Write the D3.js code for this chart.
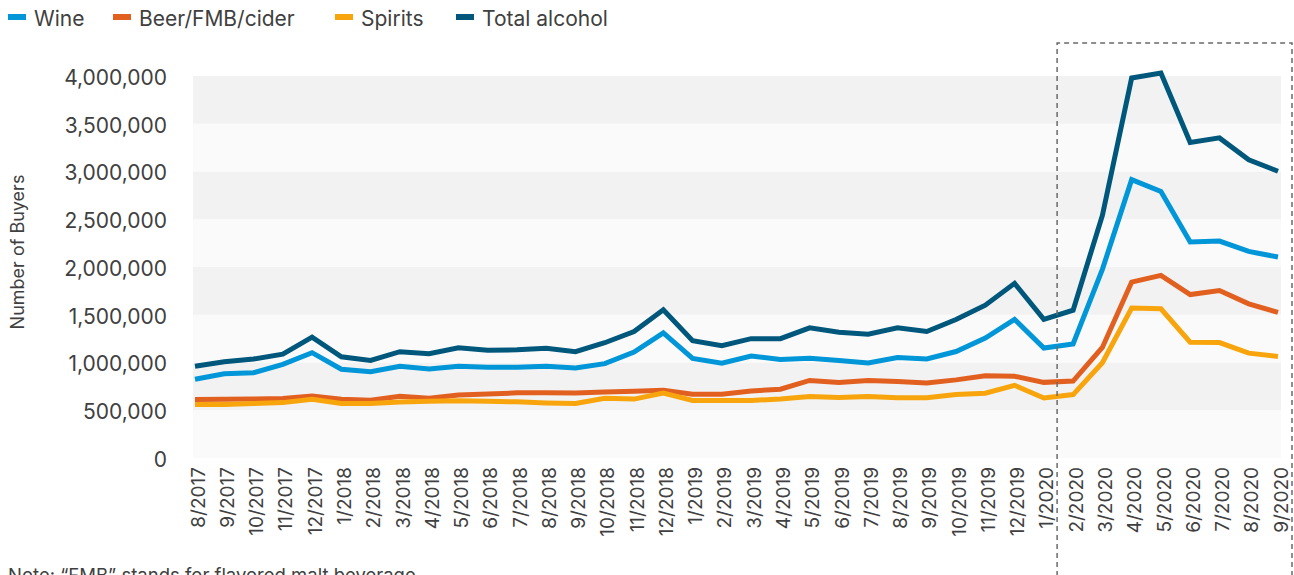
<!DOCTYPE html>
<html lang="en">
<head>
<meta charset="utf-8">
<title>Number of Buyers</title>
<script src="https://d3js.org/d3.v7.min.js"></script>
<style>
  body { margin: 0; background: #fff; font-family: Inter, "Noto Sans", sans-serif; }
  svg text { fill: #404040; }
</style>
</head>
<body>
<div id="chart"></div>
<script>
// months on the x axis
var months = ["8/2017","9/2017","10/2017","11/2017","12/2017",
  "1/2018","2/2018","3/2018","4/2018","5/2018","6/2018","7/2018","8/2018","9/2018","10/2018","11/2018","12/2018",
  "1/2019","2/2019","3/2019","4/2019","5/2019","6/2019","7/2019","8/2019","9/2019","10/2019","11/2019","12/2019",
  "1/2020","2/2020","3/2020","4/2020","5/2020","6/2020","7/2020","8/2020","9/2020"]

var wine = [825000,882000,893000,980000,1103000,930000,903000,960000,932000,960000,
  950000,950000,960000,943000,988000,1110000,1310000,1043000,993000,1068000,1032000,
  1045000,1022000,995000,1052000,1037000,1115000,1255000,1452000,1152000,1195000,
  1975000,2915000,2790000,2262000,2272000,2163000,2104000]

var beer = [612000,614000,618000,622000,650000,615000,606000,646000,626000,660000,
  670000,682000,684000,680000,692000,700000,710000,667000,667000,702000,720000,
  812000,790000,811000,800000,786000,818000,860000,856000,792000,806000,
  1157000,1842000,1912000,1711000,1753000,1614000,1525000]

var spirits = [561000,561000,570000,580000,615000,570000,570000,587000,595000,600000,
  595000,588000,577000,571000,626000,617000,681000,603000,602000,602000,619000,
  643000,634000,643000,632000,632000,664000,679000,761000,629000,664000,
  998000,1570000,1562000,1213000,1209000,1098000,1063000]

var total = [960000,1008000,1036000,1087000,1265000,1060000,1022000,1113000,1092000,1154000,
  1128000,1133000,1150000,1113000,1207000,1325000,1552000,1228000,1176000,1250000,1250000,
  1363000,1317000,1297000,1363000,1325000,1450000,1600000,1829000,1452000,1548000,
  2540000,3980000,4030000,3305000,3352000,3123000,3003000]

var yTicks = [0,500000,1000000,1500000,2000000,2500000,3000000,3500000,4000000]

var seriesNames = ["Wine","Beer/FMB/cider","Spirits","Total alcohol"]
var seriesColors = ["#0096d8","#e2601f","#f8a50d","#00577c"]
var seriesValues = [wine, beer, spirits, total]

var W = 1294, H = 575
var plotL = 193, plotR = 1281, plotT = 76, plotB = 458

var svg = d3.select("#chart").append("svg")
  .attr("width", W).attr("height", H)

var x = d3.scalePoint().domain(months).range([195, 1278])
var y = d3.scaleLinear().domain([0, 4000000]).range([plotB, plotT])

// alternating horizontal bands
svg.append("g").selectAll("rect")
  .data(yTicks.slice(0, -1))
  .enter().append("rect")
  .attr("x", plotL)
  .attr("width", plotR - plotL)
  .attr("y", function(d){ return y(d + 500000) })
  .attr("height", function(d){ return y(d) - y(d + 500000) })
  .attr("fill", function(d, i){ return i % 2 == 0 ? "#fafafa" : "#f2f2f2" })

// y axis labels
var yAxis = d3.axisLeft(y).tickValues(yTicks).tickSize(0).tickPadding(0)
  .tickFormat(d3.format(","))
var gy = svg.append("g")
  .attr("transform", "translate(167,0)")
  .call(yAxis)
gy.select(".domain").remove()
gy.selectAll("text")
  .attr("font-size", 21).attr("font-family", "Inter").attr("fill", "#404040")
  .attr("dy", "0.4em")

// x axis labels, rotated
var xAxis = d3.axisBottom(x).tickSize(0).tickPadding(0)
var gx = svg.append("g")
  .attr("transform", "translate(0," + (plotB + 9) + ")")
  .call(xAxis)
gx.select(".domain").remove()
gx.selectAll("text")
  .attr("font-size", 19).attr("font-family", "Inter").attr("fill", "#404040")
  .attr("text-anchor", "end")
  .attr("transform", "rotate(-90)")
  .attr("x", 0).attr("y", 0).attr("dy", "0.48em")

// y axis title
svg.append("text")
  .attr("transform", "translate(24,252) rotate(-90)")
  .attr("text-anchor", "middle")
  .attr("font-size", 18)
  .text("Number of Buyers")

// lines
var line = d3.line()
  .x(function(d, i){ return x(months[i]) })
  .y(function(d){ return y(d) })

svg.append("g").selectAll("path")
  .data(seriesValues)
  .enter().append("path")
  .attr("d", line)
  .attr("fill", "none")
  .attr("stroke", function(d, i){ return seriesColors[i] })
  .attr("stroke-width", 5)

// dashed highlight box (runs off the bottom)
svg.append("path")
  .attr("d", "M" + (x("2/2020") - 16) + "," + (H + 10) + "V43H1292V" + (H + 10))
  .attr("fill", "none")
  .attr("stroke", "#6a6a6a")
  .attr("stroke-width", 1.5)
  .attr("stroke-dasharray", "5,4")

// legend
var legendX = [8, 113, 335, 456]
var lg = svg.append("g").selectAll("g")
  .data(seriesNames)
  .enter().append("g")
  .attr("transform", function(d, i){ return "translate(" + legendX[i] + ",18)" })
lg.append("rect")
  .attr("x", 0).attr("y", -4).attr("width", 18).attr("height", 6)
  .attr("fill", function(d, i){ return seriesColors[i] })
lg.append("text")
  .attr("x", 26).attr("dy", "0.36em")
  .attr("font-size", 21)
  .text(function(d){ return d })

// note at the bottom (cut off by the frame)
svg.append("text")
  .attr("x", 8).attr("y", 582)
  .attr("font-size", 18.5)
  .text("Note: \u201cFMB\u201d stands for flavored malt beverage.")
</script>
</body>
</html>
